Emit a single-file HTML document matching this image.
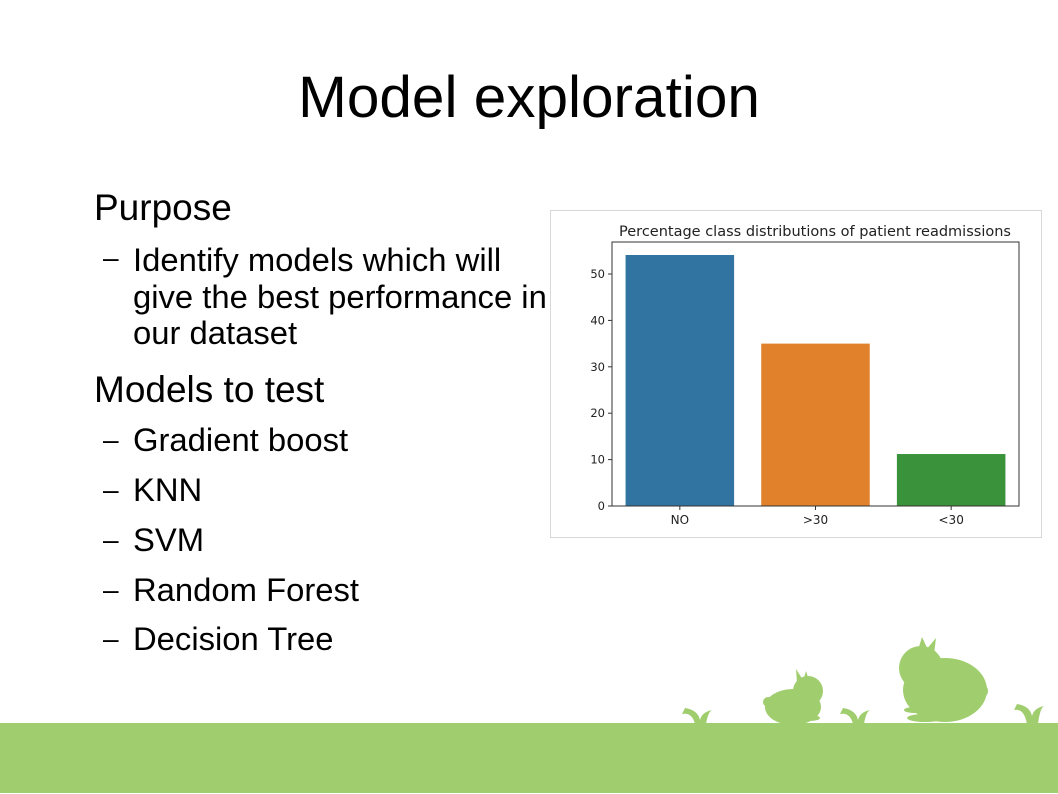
<!DOCTYPE html>
<html><head><meta charset="utf-8"><style>
body{margin:0;width:1058px;height:794px;background:#fff;position:relative;overflow:hidden;font-family:"Liberation Sans",sans-serif;color:#000}
.t{position:absolute;white-space:nowrap;line-height:1}
</style></head><body>
<div class="t" style="left:0;width:1058px;text-align:center;top:69px;font-size:58.5px">Model exploration</div>
<div class="t" style="left:94px;top:189px;font-size:37px">Purpose</div>
<div class="t" style="left:103px;top:244px;font-size:28px">–</div>
<div class="t" style="left:133px;top:242px;font-size:32.8px;line-height:36.5px">Identify models which will<br>give the best performance in<br>our dataset</div>
<div class="t" style="left:94px;top:371px;font-size:37px">Models to test</div>
<div>
<div class="t" style="left:103px;top:426px;font-size:28px">–</div><div class="t" style="left:133px;top:424px;font-size:32.8px">Gradient boost</div>
<div class="t" style="left:103px;top:476px;font-size:28px">–</div><div class="t" style="left:133px;top:474px;font-size:32.8px">KNN</div>
<div class="t" style="left:103px;top:526px;font-size:28px">–</div><div class="t" style="left:133px;top:524px;font-size:32.8px">SVM</div>
<div class="t" style="left:103px;top:576px;font-size:28px">–</div><div class="t" style="left:133px;top:574px;font-size:32.8px">Random Forest</div>
<div class="t" style="left:103px;top:625px;font-size:28px">–</div><div class="t" style="left:133px;top:623px;font-size:32.8px">Decision Tree</div>
</div>

<svg id="chart" width="1058" height="794" style="position:absolute;left:0;top:0" xmlns="http://www.w3.org/2000/svg">
<rect x="550.5" y="210.5" width="491" height="327" fill="#fff" stroke="#d8d8d8"/>
<text x="815" y="236" font-size="14.5" text-anchor="middle" fill="#222" font-family="DejaVu Sans, sans-serif">Percentage class distributions of patient readmissions</text>
<g id="marks"></g>
</svg>

<svg width="1058" height="794" style="position:absolute;left:0;top:0">
<g fill="#a0ce6e">
<rect x="0" y="723" width="1058" height="70"/>
<g>
<ellipse cx="793" cy="707" rx="28" ry="18"/><circle cx="808" cy="691" r="15"/><circle cx="768" cy="702" r="5"/>
<path d="M797 683 L796 669 L803 680 Z M803 681 L806 671 L810 683 Z"/>
<ellipse cx="810" cy="718" rx="10" ry="3"/>
</g>
<g>
<ellipse cx="945" cy="690" rx="42" ry="32"/><circle cx="921" cy="668" r="22"/><circle cx="981" cy="691" r="7"/>
<path d="M918 650 L922 637 L928 650 Z M926 650 L936 638 L934 654 Z"/>
<ellipse cx="925" cy="718" rx="18" ry="4"/><ellipse cx="914" cy="710" rx="10" ry="3"/>
</g>
<path d="M682 714 Q692 712 695 724 L706 724 Q708 712 712 710 Q702 712 700 720 Q698 710 685 708 Z"/>
<path d="M840 714 Q850 712 853 724 L864 724 Q866 712 870 710 Q860 712 858 720 Q856 710 843 708 Z"/>
<path d="M1014 710 Q1024 708 1027 724 L1038 724 Q1040 708 1044 706 Q1034 708 1032 716 Q1030 706 1017 704 Z"/>
</g>
</svg>

<script>
const categories = ["NO", ">30", "<30"];
const values = [54.1, 35.0, 11.2];
const yTicks = [0, 10, 20, 30, 40, 50];
const colors = ["#3274a1", "#e1812c", "#3a923a"];

const L = 612, R = 1019, T = 242, B = 506, YMAX = 56.9;
const ys = v => B - v / YMAX * (B - T);
const band = (R - L) / categories.length;
const xs = i => L + band * i + band / 2;
const g = document.getElementById('marks');
const NS = "http://www.w3.org/2000/svg";
function mk(tag, attrs) { const e = document.createElementNS(NS, tag); for (const k in attrs) e.setAttribute(k, attrs[k]); g.appendChild(e); return e; }

values.forEach((v, i) => {
  const w = band * 0.8;
  const r = mk('rect', {x: xs(i) - w / 2, y: ys(v), width: w, height: B - ys(v), fill: colors[i]});
  
  
  mk('line', {x1: xs(i), x2: xs(i), y1: B, y2: B + 4, stroke: '#333'});
  const t = mk('text', {x: xs(i), y: B + 18, 'font-size': 12, 'text-anchor': 'middle', fill: '#222', 'font-family': 'DejaVu Sans, sans-serif'});
  t.textContent = categories[i];
  
  
});
yTicks.forEach(v => {
  mk('line', {x1: L - 4, x2: L, y1: ys(v), y2: ys(v), stroke: '#333'});
  const t = mk('text', {x: L - 7, y: ys(v) + 4, 'font-size': 11.5, 'text-anchor': 'end', fill: '#222', 'font-family': 'DejaVu Sans, sans-serif'});
  t.textContent = v;
  
  
});
const ax = mk('rect', {x: L, y: T, width: R - L, height: B - T, fill: 'none', stroke: '#333', 'stroke-width': 1});


</script>
</body></html>
